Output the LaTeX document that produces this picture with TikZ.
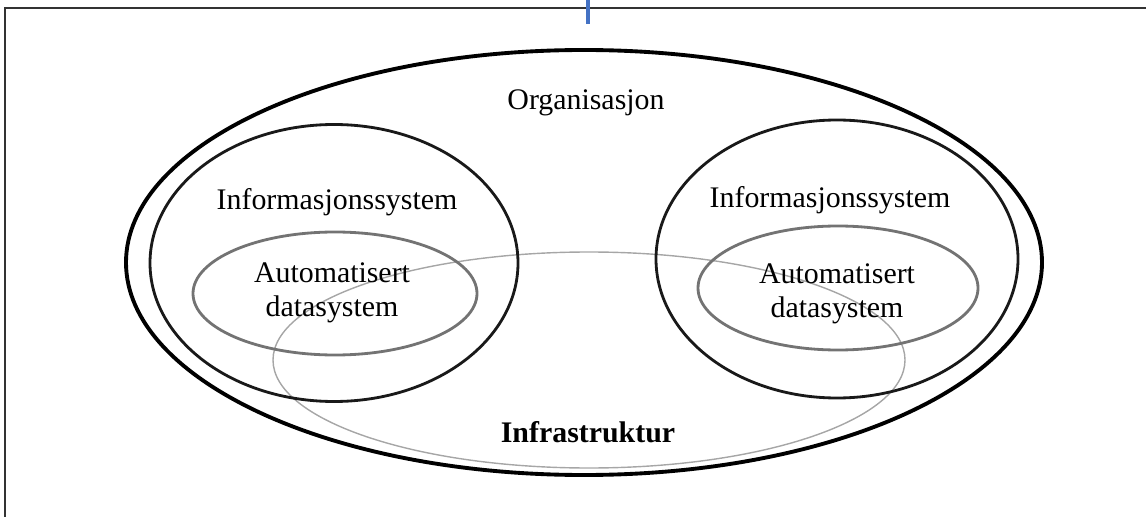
\documentclass[tikz,border=0pt]{standalone}
\usepackage{fontspec}
\setmainfont{Liberation Serif}
\usetikzlibrary{shapes.geometric}
\definecolor{markblue}{RGB}{68,114,196}

\begin{document}
\begin{tikzpicture}[font=\fontsize{17}{19}\selectfont]
\tikzset{ring/.style={draw, ellipse, inner sep=0pt},
 outer/.style={ring, line width=2.2pt, black},
 sys/.style={ring, line width=1.6pt, black!90},
 auto/.style={ring, line width=1.6pt, black!55},
 infra/.style={ring, line width=0.8pt, black!35},
 lbl/.style={align=center, inner sep=0pt}}

\useasboundingbox (0,0) rectangle (22.92,-10.34);

% Frame of the scan
\draw[line width=1.6pt, black!80] (0.1,-10.34) -- (0.1,-0.16) -- (22.92,-0.16);
\draw[line width=2.2pt, markblue] (11.76,0) -- (11.76,-0.48);

% Ellipses
\node[infra, minimum width=12.64cm, minimum height=4.32cm] (infra) at (11.78,-7.2) {};
\node[outer, minimum width=18.32cm, minimum height=8.5cm] (org) at (11.68,-5.25) {};

\node[sys, minimum width=7.36cm, minimum height=5.54cm] (isl) at (6.68,-5.26) {};
\node[auto, minimum width=5.68cm, minimum height=2.46cm] (adl) at (6.70,-5.87) {};

\node[sys, minimum width=7.24cm, minimum height=5.56cm] (isr) at (16.74,-5.18) {};
\node[auto, minimum width=5.6cm, minimum height=2.48cm] (adr) at (16.76,-5.76) {};

% Labels
\node[lbl] (orgl) at (11.72,-2.06) {Organisasjon};
\node[lbl] (isll) at (6.74,-4.04) {Informasjonssystem};
\node[lbl] (adll) at (6.64,-5.86) {Automatisert\\datasystem};
\node[lbl] (isrl) at (16.6,-4.0) {Informasjonssystem};
\node[lbl] (adrl) at (16.74,-5.88) {Automatisert\\datasystem};
\node[lbl, font=\fontsize{17}{19}\selectfont\bfseries] (infral) at (11.76,-8.64) {Infrastruktur};

\end{tikzpicture}
\end{document}
